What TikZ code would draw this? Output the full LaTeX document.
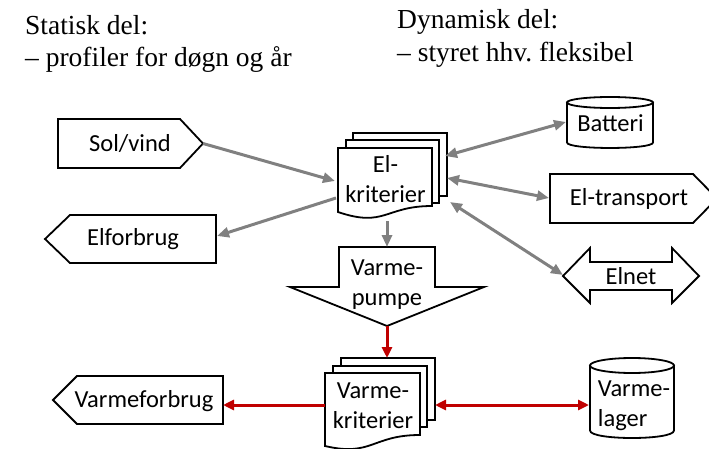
\documentclass[tikz,border=0pt]{standalone}
\usepackage{fontspec}
\setmainfont{Liberation Serif}
\newfontfamily\boxfont{Carlito}
\usetikzlibrary{arrows.meta}
\definecolor{grayline}{RGB}{128,128,128}
\definecolor{redline}{RGB}{192,0,0}
\begin{document}
\frenchspacing
\begin{tikzpicture}[x=1pt,y=-1pt,
  shapeline/.style={draw=black,line width=1.8pt,fill=white,line join=miter},
  lbl/.style={font=\boxfont\fontsize{24.5}{30}\selectfont,align=center,inner sep=0pt},
  hdr/.style={font=\fontsize{27.5}{32}\selectfont,anchor=base west,inner sep=0pt},
  gtip/.tip={Triangle[length=12pt,width=10pt]},
  rtip/.tip={Triangle[length=11pt,width=10pt]},
  garrow/.style={draw=grayline,line width=3pt,-gtip},
  gboth/.style={draw=grayline,line width=3pt,gtip-gtip},
  rarrow/.style={draw=redline,line width=3pt,-rtip},
  rboth/.style={draw=redline,line width=3pt,rtip-rtip}]
\useasboundingbox (0,0) rectangle (709,449);
\clip (0,0) rectangle (709,449);

% headers
\node[hdr] (stat1) at (25,35) {Statisk del:};
\node[hdr] (stat2) at (25,67) {– profiler for døgn og år};
\node[hdr] (dyn1) at (397,29) {Dynamisk del:};
\node[hdr] (dyn2) at (397,62) {– styret hhv.\ fleksibel};

% Sol/vind
\draw[shapeline] (58,119) -- (180,119) -- (203,143.5) -- (180,168) -- (58,168) -- cycle;
\node[lbl] (solvind) at (130,143.5) {Sol/vind};
% Elforbrug
\draw[shapeline] (45,239) -- (70,215) -- (216,215) -- (216,263) -- (70,263) -- cycle;
\node[lbl] (elforbrug) at (133,239) {Elforbrug};
% El-kriterier
\draw[shapeline] (353,133) rectangle (447,196);
\draw[shapeline] (346,140) rectangle (439,203);
\draw[shapeline] (338,148) -- (432,148) -- (432,206) .. controls (385,206) and (385,228) .. (338,212) -- cycle;
\node[lbl] (elkrit) at (385.5,179) {El-\\kriterier};
% Batteri
\draw[shapeline] (567,102.5) -- (567,142.5) .. controls (567,149.8) and (653,149.8) .. (653,142.5) -- (653,102.5) -- cycle;
\draw[shapeline] (610,102.5) ellipse [x radius=43pt,y radius=5.5pt];
\node[lbl] (batteri) at (610.5,123) {Batteri};
% El-transport
\draw[shapeline] (550,174) -- (693,174) -- (717,198.5) -- (693,223) -- (550,223) -- cycle;
\node[lbl] (eltransport) at (629,199) {El-transport};
% Elnet
\draw[shapeline] (563,276) -- (590,248) -- (590,262) -- (672,262) -- (672,248) -- (699,276)
  -- (672,303) -- (672,290) -- (590,290) -- (590,303) -- cycle;
\node[lbl] (elnet) at (631,276) {Elnet};
% Varmepumpe
\draw[shapeline] (339,247) -- (435,247) -- (435,287) -- (484,287) -- (387,326) -- (290,287) -- (339,287) -- cycle;
\node[lbl] (varmepumpe) at (387,285) {Varme-\\pumpe};
% Varme-kriterier
\draw[shapeline] (341,358) rectangle (435,420);
\draw[shapeline] (333,366) rectangle (427,427);
\draw[shapeline] (325,373) -- (420,373) -- (420,435) .. controls (372,435) and (372,457) .. (325,446) -- cycle;
\node[lbl] (varmekrit) at (373,406) {Varme-\\kriterier};
% Varmeforbrug
\draw[shapeline] (53,400) -- (77,376) -- (223,376) -- (223,424) -- (77,424) -- cycle;
\node[lbl] (varmeforbrug) at (144,401) {Varmeforbrug};
% Varmelager
\draw[shapeline] (590,365.5) -- (590,430.5) .. controls (590,440.5) and (674,440.5) .. (674,430.5) -- (674,365.5) -- cycle;
\draw[shapeline] (632,365.5) ellipse [x radius=42pt,y radius=7.5pt];
\node[lbl,align=left] (varmelager) at (634,406) {Varme-\\lager};

% connector end points
\coordinate (solTip) at (203,143.5);
\coordinate (ekIn) at (335,181);
\coordinate (ekOut) at (336,198);
\coordinate (efIn) at (217,236);
\coordinate (ekBot) at (387,221);
\coordinate (vpTop) at (387,247);
\coordinate (ekB1) at (445,156);
\coordinate (batL) at (566,122);
\coordinate (ekB2) at (447,178);
\coordinate (etL) at (549,198);
\coordinate (ekB3) at (450,202);
\coordinate (enL) at (563,275);
\coordinate (vpTip) at (387,326);
\coordinate (vkTop) at (387,358);
\coordinate (vkL) at (325,405);
\coordinate (vfR) at (223,405);
\coordinate (vkR) at (435,405);
\coordinate (vlL) at (589,405);

\draw[garrow] (solTip) -- (ekIn);
\draw[garrow] (ekOut) -- (efIn);
\draw[garrow] (ekBot) -- (vpTop);
\draw[gboth] (ekB1) -- (batL);
\draw[gboth] (ekB2) -- (etL);
\draw[gboth] (ekB3) -- (enL);
\draw[rarrow] (vpTip) -- (vkTop);
\draw[rarrow] (vkL) -- (vfR);
\draw[rboth] (vkR) -- (vlL);
\end{tikzpicture}
\end{document}
